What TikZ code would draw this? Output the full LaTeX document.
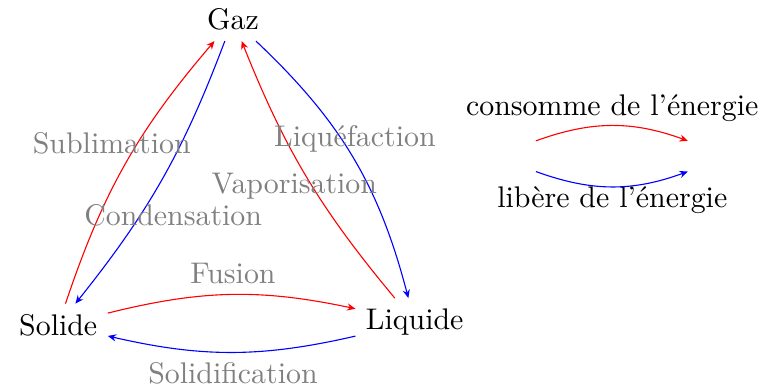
\documentclass[tikz,border=0pt]{standalone}
\usetikzlibrary{arrows.meta}

\begin{document}
\begin{tikzpicture}[>={Stealth[length=3pt,width=2.6pt]},every node/.style={scale=1.08}]
\useasboundingbox (0,0) rectangle (9.67,4.89);
\node (g) at (2.96,4.64){Gaz};
\node (s) at (0.74,0.76){Solide};
\node (l) at (5.27,0.80){Liquide};
\draw[->,red] (s) to[bend left=11] (g);
\draw[->,blue] (g) to[bend left=9] (s);
\draw[->,blue] (g) to[bend left=16] (l);
\draw[->,red] (l) to[bend left=9] (g);
\draw[->,red] (s) to[bend left=13] (l);
\draw[->,blue] (l) to[bend left=13] (s);
\node[gray] (sub) at (1.42,3.07){Sublimation};
\node[gray] (con) at (2.20,2.16){Condensation};
\node[gray] (liq) at (4.51,3.13){Liqu\'efaction};
\node[gray] (vap) at (3.74,2.53){Vaporisation};
\node[gray] (fus) at (2.96,1.42){Fusion};
\node[gray] (sol) at (2.96,0.15){Solidification};
% legende
\node (c) at (7.78,3.52){consomme de l'\'energie};
\node (b) at (7.78,2.35){lib\`ere de l'\'energie};
\coordinate (c1) at (6.81,3.10);
\coordinate (c2) at (8.74,3.10);
\coordinate (b1) at (6.81,2.71);
\coordinate (b2) at (8.74,2.71);
\draw[->,red] (c1) to[bend left=20] (c2);
\draw[->,blue] (b1) to[bend right=20] (b2);
\end{tikzpicture}
\end{document}
